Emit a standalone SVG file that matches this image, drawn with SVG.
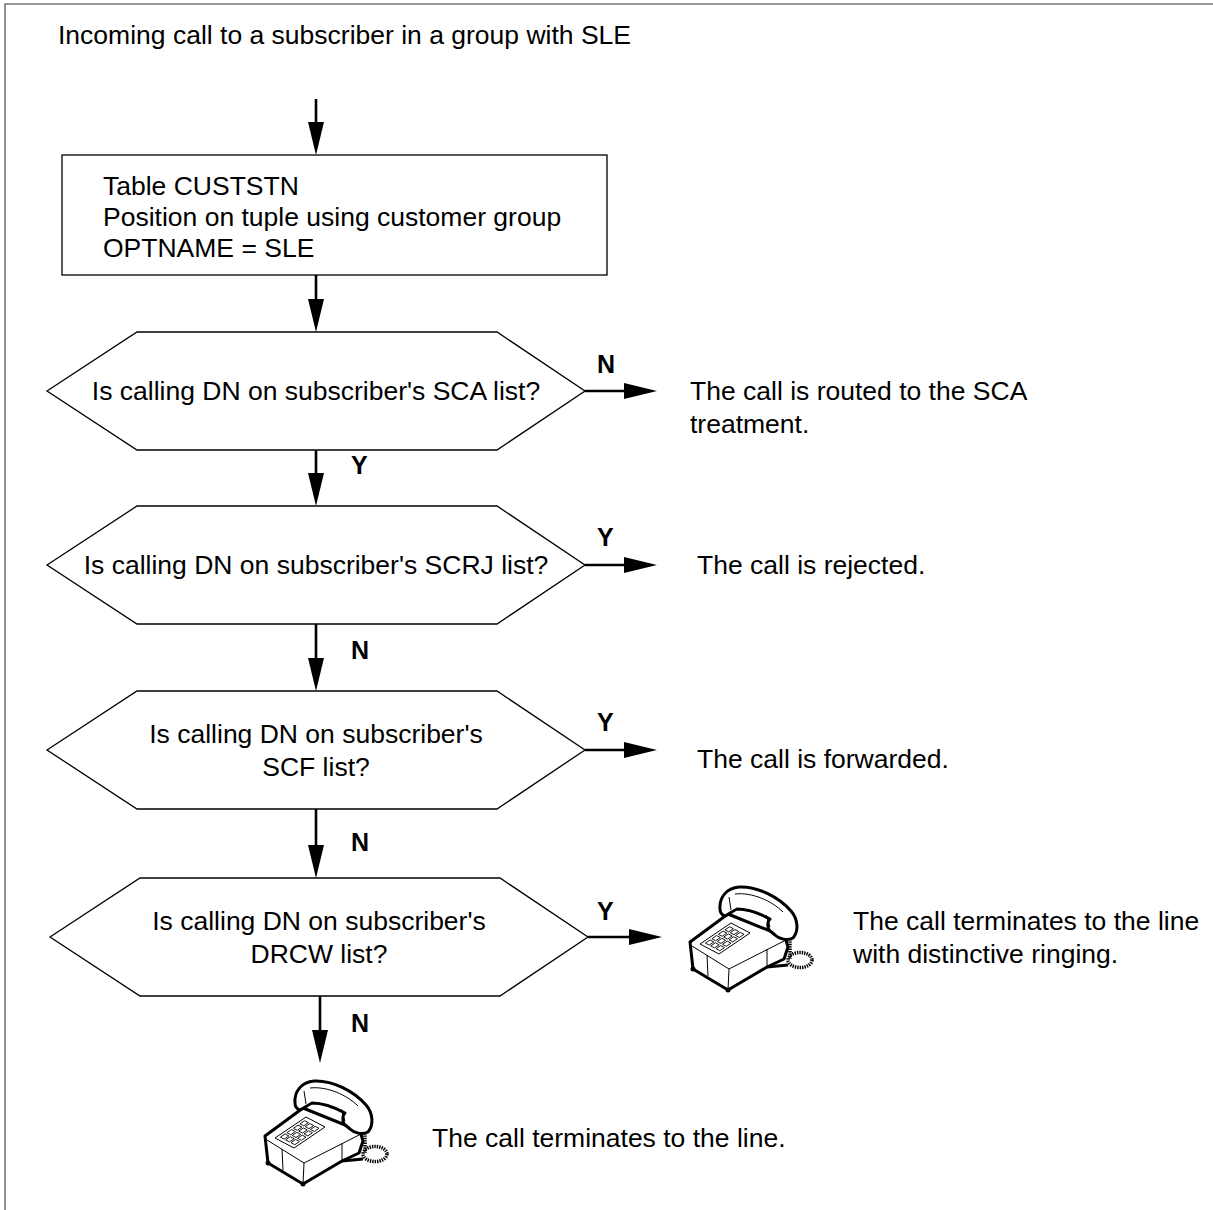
<svg xmlns="http://www.w3.org/2000/svg" width="1213" height="1210" viewBox="0 0 1213 1210">
  <style>
    .t { font-family: "Liberation Sans", Arial, sans-serif; font-size: 26.5px; fill: #000; }
    .lbl { font-family: "Liberation Sans", Arial, sans-serif; font-size: 25px; font-weight: bold; fill: #000; }
    .shape { fill: #fff; stroke: #000; stroke-width: 1.3; }
    .wire { stroke: #000; stroke-width: 2.6; fill: none; marker-end: url(#head); }
    .ph { fill: #fff; stroke: #000; stroke-width: 3; stroke-linejoin: round; stroke-linecap: round; }
    .phin { fill: none; stroke: #000; stroke-width: 1; }
    .key { fill: #fff; stroke: #000; stroke-width: 0.9; }
  </style>
  <defs>
    <marker id="head" markerUnits="userSpaceOnUse" markerWidth="34" markerHeight="16" refX="23" refY="8" orient="auto">
      <path d="M0,0 L33,8 L0,16 Z" fill="#000"/>
    </marker>
    <!-- desk telephone, 126 x 107 -->
    <symbol id="phone" viewBox="0 0 126 107" width="126" height="107" overflow="visible">
      <path class="ph" d="M3,57 L41,29 L98,52 L101,62 L97,74 L80,82 L41,105 L6,84 Z"/>
      <path class="phin" d="M5,61 L42,84 L99,55 M42,84 L41,105 M20,70 L21,91 M80,64 L80,82"/>
      <path class="phin" d="M13,59 L44,38 L63,48 L32,69 Z"/>
      <g transform="matrix(31 -21 19 10 13 59)">
        <rect class="key" x="0.1" y="0.12" width="0.15" height="0.2" vector-effect="non-scaling-stroke"/>
        <rect class="key" x="0.31" y="0.12" width="0.15" height="0.2" vector-effect="non-scaling-stroke"/>
        <rect class="key" x="0.52" y="0.12" width="0.15" height="0.2" vector-effect="non-scaling-stroke"/>
        <rect class="key" x="0.73" y="0.12" width="0.15" height="0.2" vector-effect="non-scaling-stroke"/>
        <rect class="key" x="0.1" y="0.4" width="0.15" height="0.2" vector-effect="non-scaling-stroke"/>
        <rect class="key" x="0.31" y="0.4" width="0.15" height="0.2" vector-effect="non-scaling-stroke"/>
        <rect class="key" x="0.52" y="0.4" width="0.15" height="0.2" vector-effect="non-scaling-stroke"/>
        <rect class="key" x="0.73" y="0.4" width="0.15" height="0.2" vector-effect="non-scaling-stroke"/>
        <rect class="key" x="0.1" y="0.68" width="0.15" height="0.2" vector-effect="non-scaling-stroke"/>
        <rect class="key" x="0.31" y="0.68" width="0.15" height="0.2" vector-effect="non-scaling-stroke"/>
        <rect class="key" x="0.52" y="0.68" width="0.15" height="0.2" vector-effect="non-scaling-stroke"/>
        <rect class="key" x="0.73" y="0.68" width="0.15" height="0.2" vector-effect="non-scaling-stroke"/>
      </g>
      <!-- handset -->
      <path class="ph" d="M33,24 C32,12 40,3 52,2 C70,1 92,12 104,26 C111,34 112,46 106,53 C100,56 92,54 88,50 L82,45 C80,40 81,36 83,34 C72,28 60,24 50,24 C46,26 42,29 38,31 C35,30 33,27 33,24 Z"/>
      <path class="phin" d="M42,12 L44,25 M48,9 C65,7 85,16 96,27 M79,30 L83,42"/>
      <!-- coiled cord -->
      <path d="M103,54 L103,74" stroke="#000" stroke-width="3.5" stroke-dasharray="1.4 1" fill="none"/>
      <ellipse cx="113" cy="75" rx="12" ry="7.5" fill="none" stroke="#000" stroke-width="3.5" stroke-dasharray="1.4 1"/>
      <path d="M80,82 L101,80" stroke="#000" stroke-width="3" fill="none"/>
      <circle cx="6" cy="84" r="2.5"/>
      <circle cx="41" cy="105" r="2.5"/>
    </symbol>
  </defs>

  <rect width="1213" height="1210" fill="#fff"/>
  <!-- page frame -->
  <path d="M5,1210 L5,4 L1213,4" fill="none" stroke="#777" stroke-width="1.6"/>

  <g id="start">
    <text class="t" x="58" y="44">Incoming call to a subscriber in a group with SLE</text>
  </g>

  <g id="custstn">
    <rect class="shape" x="62" y="155" width="545" height="120"/>
    <text class="t" x="103" y="195">Table CUSTSTN</text>
    <text class="t" x="103" y="226">Position on tuple using customer group</text>
    <text class="t" x="103" y="257">OPTNAME = SLE</text>
  </g>

  <g id="q-sca">
    <polygon class="shape" points="47,391 137,332 497,332 585,391 497,450 137,450"/>
    <text class="t" x="316" y="400" text-anchor="middle">Is calling DN on subscriber's SCA list?</text>
  </g>

  <g id="q-scrj">
    <polygon class="shape" points="47,565 137,506 497,506 585,565 497,624 137,624"/>
    <text class="t" x="316" y="574" text-anchor="middle">Is calling DN on subscriber's SCRJ list?</text>
  </g>

  <g id="q-scf">
    <polygon class="shape" points="47,750 137,691 497,691 585,750 497,809 137,809"/>
    <text class="t" x="316" y="743" text-anchor="middle">Is calling DN on subscriber's</text>
    <text class="t" x="316" y="776" text-anchor="middle">SCF list?</text>
  </g>

  <g id="q-drcw">
    <polygon class="shape" points="50,937 140,878 500,878 588,937 500,996 140,996"/>
    <text class="t" x="319" y="930" text-anchor="middle">Is calling DN on subscriber's</text>
    <text class="t" x="319" y="963" text-anchor="middle">DRCW list?</text>
  </g>

  <g id="r-sca">
    <text class="t" x="690" y="400">The call is routed to the SCA</text>
    <text class="t" x="690" y="433">treatment.</text>
  </g>
  <g id="r-reject">
    <text class="t" x="697" y="574">The call is rejected.</text>
  </g>
  <g id="r-forward">
    <text class="t" x="697" y="768">The call is forwarded.</text>
  </g>
  <g id="r-ring">
    <use href="#phone" x="687" y="885"/>
    <text class="t" x="853" y="930">The call terminates to the line</text>
    <text class="t" x="853" y="963">with distinctive ringing.</text>
  </g>
  <g id="r-line">
    <use href="#phone" x="262" y="1079"/>
    <text class="t" x="432" y="1147">The call terminates to the line.</text>
  </g>

  <g id="connectors">
    <line class="wire" x1="316" y1="99" x2="316" y2="145"/>
    <line class="wire" x1="316" y1="275" x2="316" y2="322"/>
    <line class="wire" x1="585" y1="391" x2="647" y2="391"/>
    <line class="wire" x1="316" y1="450" x2="316" y2="496"/>
    <line class="wire" x1="585" y1="565" x2="647" y2="565"/>
    <line class="wire" x1="316" y1="624" x2="316" y2="681"/>
    <line class="wire" x1="585" y1="750" x2="647" y2="750"/>
    <line class="wire" x1="316" y1="809" x2="316" y2="868"/>
    <line class="wire" x1="588" y1="937" x2="652" y2="937"/>
    <line class="wire" x1="320" y1="996" x2="320" y2="1053"/>
    <text class="lbl" x="597" y="373">N</text>
    <text class="lbl" x="351" y="474">Y</text>
    <text class="lbl" x="597" y="546">Y</text>
    <text class="lbl" x="351" y="659">N</text>
    <text class="lbl" x="597" y="731">Y</text>
    <text class="lbl" x="351" y="851">N</text>
    <text class="lbl" x="597" y="920">Y</text>
    <text class="lbl" x="351" y="1032">N</text>
  </g>
</svg>
